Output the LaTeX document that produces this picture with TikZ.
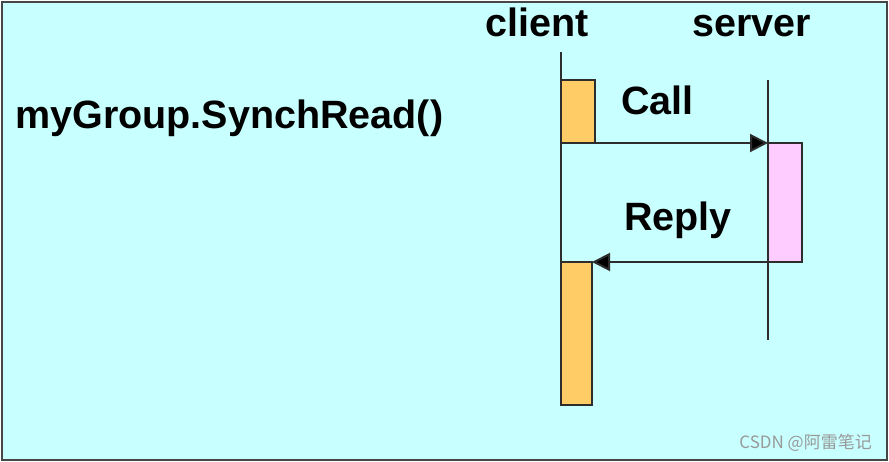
\documentclass[tikz,border=0pt]{standalone}
\usepackage{fontspec}
\setmainfont{Liberation Sans}
\newfontfamily\cjk{Noto Sans CJK SC}
\usetikzlibrary{arrows.meta}

\definecolor{bgcyan}{RGB}{200,255,255}
\definecolor{clientbar}{RGB}{255,204,102}
\definecolor{serverbar}{RGB}{255,204,255}
\definecolor{framegray}{RGB}{70,70,70}
\definecolor{linegray}{RGB}{45,45,45}

\tikzset{
	label/.style={font=\fontsize{39.5}{44}\selectfont\bfseries, inner sep=0pt},
	lifeline/.style={draw=linegray, line width=1.5pt},
	bar/.style={draw=linegray, line width=1.5pt, anchor=north west, inner sep=0pt, outer sep=0pt},
	msg/.style={draw=linegray, line width=2pt, -{Triangle[length=18pt,width=18pt,fill=black]}},
}

\begin{document}
\begin{tikzpicture}[x=1pt,y=-1pt]

	\useasboundingbox (0,0) rectangle (889,462);
	\draw[fill=bgcyan, draw=framegray, line width=2pt] (2,2) rectangle (887,460);

	\node[label, anchor=base] (client) at (537, 37) {client};
	\node[label, anchor=base] (server) at (752, 37) {server};
	\node[label, anchor=west] (call) at (15, 118) {myGroup.SynchRead()};

	\coordinate (ctop) at (561, 52);
	\coordinate (cbot) at (561, 405);
	\coordinate (stop) at (768, 80);
	\coordinate (sbot) at (768, 340);
	\path[lifeline] (ctop) edge (cbot);
	\path[lifeline] (stop) edge (sbot);

	\node[bar, fill=clientbar, minimum width=34pt, minimum height=63pt]  (cb1) at (561, 80)  {};
	\node[bar, fill=serverbar, minimum width=34pt, minimum height=119pt] (sb)  at (768, 143) {};
	\node[bar, fill=clientbar, minimum width=31pt, minimum height=143pt] (cb2) at (561, 262) {};

	\path (cb1.south east) edge[msg] node[label, above=27pt, xshift=-24pt] {Call} (sb.north west);
	\path (sb.south west) edge[msg] node[label, above=22pt, xshift=-2pt] {Reply} (cb2.north east);

	\node[font=\cjk\fontsize{17}{19}\selectfont, text=gray!80, anchor=east, inner sep=0pt] (mark) at (872, 443) {CSDN @阿雷笔记};

\end{tikzpicture}
\end{document}
